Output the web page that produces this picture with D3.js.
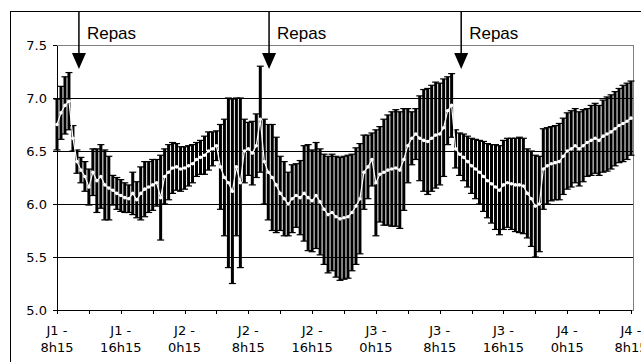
<!DOCTYPE html>
<html>
<head>
<meta charset="utf-8">
<script src="https://cdn.jsdelivr.net/npm/d3@7"></script>
<style>
  body { margin: 0; background: #fff; }
  svg { display: block; }
  .axis text { font-family: "DejaVu Sans", Verdana, sans-serif; font-size: 13px; fill: #000; }
  .axis path, .axis line { stroke: #000; shape-rendering: crispEdges; }
</style>
</head>
<body>
<svg id="chart" width="641" height="362"></svg>
<script>
// one reading every 30 min, starting J1 - 8h15
const stepHours = 0.5;

const meanValues = [
  6.75, 6.86, 6.93, 6.97, 6.62, 6.40, 6.32, 6.26, 6.16, 6.30,
  6.22, 6.26, 6.18, 6.15, 6.13, 6.10, 6.08, 6.06, 6.05, 6.10,
  6.04, 6.10, 6.14, 6.16, 6.18, 6.20, 6.06, 6.26, 6.30, 6.34,
  6.35, 6.33, 6.34, 6.36, 6.38, 6.42, 6.44, 6.46, 6.50, 6.52,
  6.55, 6.35, 6.25, 6.20, 6.12, 6.35, 6.20, 6.50, 6.52, 6.48,
  6.55, 6.80, 6.40, 6.30, 6.25, 6.18, 6.10, 6.05, 6.00, 6.05,
  6.08, 6.06, 6.10, 6.06, 6.03, 6.08, 6.02, 5.95, 5.90, 5.92,
  5.88, 5.86, 5.87, 5.88, 5.92, 5.98, 6.05, 6.30, 6.35, 6.42,
  6.20, 6.28, 6.30, 6.32, 6.33, 6.34, 6.32, 6.42, 6.55, 6.62,
  6.66, 6.62, 6.60, 6.59, 6.62, 6.65, 6.66, 6.72, 6.88, 6.93,
  6.52, 6.47, 6.44, 6.40, 6.36, 6.33, 6.30, 6.26, 6.22, 6.19,
  6.16, 6.13, 6.18, 6.20, 6.19, 6.18, 6.18, 6.17, 6.10, 6.05,
  5.98, 6.00, 6.33, 6.36, 6.38, 6.39, 6.40, 6.45, 6.50, 6.52,
  6.55, 6.52, 6.55, 6.58, 6.60, 6.62, 6.60, 6.64, 6.66, 6.68,
  6.71, 6.74, 6.76, 6.78, 6.81
];

const sdValues = [
  0.24, 0.25, 0.27, 0.27, 0.12, 0.11, 0.12, 0.14, 0.17, 0.22,
  0.30, 0.30, 0.33, 0.30, 0.14, 0.15, 0.15, 0.14, 0.13, 0.20,
  0.17, 0.25, 0.26, 0.24, 0.24, 0.22, 0.40, 0.26, 0.26, 0.24,
  0.22, 0.21, 0.20, 0.19, 0.18, 0.16, 0.16, 0.18, 0.18, 0.16,
  0.14, 0.40, 0.55, 0.80, 0.87, 0.65, 0.80, 0.30, 0.25, 0.30,
  0.30, 0.50, 0.40, 0.45, 0.50, 0.45, 0.35, 0.35, 0.30, 0.32,
  0.30, 0.35, 0.45, 0.50, 0.48, 0.50, 0.50, 0.52, 0.55, 0.55,
  0.57, 0.58, 0.58, 0.58, 0.55, 0.55, 0.52, 0.35, 0.30, 0.25,
  0.50, 0.45, 0.50, 0.52, 0.54, 0.55, 0.55, 0.48, 0.35, 0.25,
  0.24, 0.40, 0.48, 0.50, 0.50, 0.50, 0.48, 0.46, 0.32, 0.30,
  0.18, 0.20, 0.22, 0.24, 0.26, 0.28, 0.30, 0.33, 0.35, 0.37,
  0.40, 0.42, 0.42, 0.42, 0.43, 0.44, 0.45, 0.45, 0.42, 0.45,
  0.48, 0.45, 0.38, 0.36, 0.35, 0.35, 0.36, 0.36, 0.36, 0.36,
  0.35, 0.35, 0.34, 0.32, 0.33, 0.33, 0.33, 0.34, 0.35, 0.35,
  0.35, 0.35, 0.36, 0.36, 0.35
];

const dayLabels = ["J1 -", "J1 -", "J2 -", "J2 -", "J2 -", "J3 -", "J3 -", "J3 -", "J4 -", "J4 -"];
const timeLabels = ["8h15", "16h15", "0h15", "8h15", "16h15", "0h15", "8h15", "16h15", "0h15", "8h15"];
const yTicks = [5.0, 5.5, 6.0, 6.5, 7.0, 7.5];
const gridValues = [5.5, 6.0, 6.5, 7.0];
const mealHours = [2.75, 26.6, 50.7];
const mealLabel = "Repas";

const points = meanValues.map((m, i) => ({ h: i * stepHours, mean: m, sd: sdValues[i] }));

const svg = d3.select("#chart"),
  margin = { top: 45, left: 57 },
  width = 576,
  height = 265;

// outer chart frame
svg.append("rect")
  .attr("x", 10.5).attr("y", 11.5)
  .attr("width", 640).attr("height", 360)
  .attr("fill", "none").attr("stroke", "#000");

const g = svg.append("g")
  .attr("transform", "translate(" + margin.left + "," + margin.top + ")");

const x = d3.scaleLinear().domain([0, 72]).range([0, 574]),
  y = d3.scaleLinear().domain([5, 7.5]).range([height, 0]);

g.append("rect")
  .attr("x", 0.5).attr("y", 0.5)
  .attr("width", width).attr("height", height)
  .attr("fill", "none").attr("stroke", "#808080")
  .style("shape-rendering", "crispEdges");

g.selectAll(".grid")
  .data(gridValues)
  .enter()
  .append("line")
  .attr("class", "grid")
  .attr("x1", 0).attr("x2", width)
  .attr("y1", (d) => Math.round(y(d)) + 0.5)
  .attr("y2", (d) => Math.round(y(d)) + 0.5)
  .attr("stroke", "#000")
  .style("shape-rendering", "crispEdges");

g.append("g")
  .attr("class", "axis y")
  .call(d3.axisLeft(y).tickValues(yTicks).tickFormat(d3.format(".1f"))
    .tickSize(4).tickSizeOuter(0).tickPadding(6));

g.append("g")
  .attr("class", "axis x")
  .attr("transform", "translate(0," + height + ")")
  .call(d3.axisBottom(x).tickValues(d3.range(0, 73, 4)).tickFormat("")
    .tickSize(4).tickSizeOuter(0));

const xl = g.append("g").attr("class", "axis");
dayLabels.forEach((day, i) => {
  const t = xl.append("text")
    .attr("text-anchor", "middle")
    .attr("transform", `translate(${x(i * 8)},0)`);
  t.append("tspan").attr("x", 0).attr("y", 290).text(day);
  t.append("tspan").attr("x", 0).attr("y", 307).text(timeLabels[i]);
});

// error bars (mean +/- sd)
const bars = g.append("g").attr("class", "errorbars")
  .selectAll("g")
  .data(points)
  .enter()
  .append("g")
  .attr("stroke", "#000");

bars.append("line")
  .attr("x1", (d) => x(d.h)).attr("x2", (d) => x(d.h))
  .attr("y1", (d) => y(d.mean + d.sd)).attr("y2", (d) => y(d.mean - d.sd))
  .attr("stroke-width", 3);

bars.append("line")
  .attr("x1", (d) => x(d.h) - 3.5).attr("x2", (d) => x(d.h) + 3.5)
  .attr("y1", (d) => y(d.mean + d.sd)).attr("y2", (d) => y(d.mean + d.sd))
  .attr("stroke-width", 1.2);

bars.append("line")
  .attr("x1", (d) => x(d.h) - 3.5).attr("x2", (d) => x(d.h) + 3.5)
  .attr("y1", (d) => y(d.mean - d.sd)).attr("y2", (d) => y(d.mean - d.sd))
  .attr("stroke-width", 1.2);

// mean series in white
g.append("path")
  .datum(points)
  .attr("fill", "none")
  .attr("stroke", "#fff")
  .attr("stroke-width", 1.2)
  .attr("d", d3.line().x((d) => x(d.h)).y((d) => y(d.mean)));

g.append("g")
  .selectAll("circle")
  .data(points)
  .enter()
  .append("circle")
  .attr("cx", (d) => x(d.h))
  .attr("cy", (d) => y(d.mean))
  .attr("r", 1.8)
  .attr("fill", "#fff");

// meal annotations
const meals = svg.append("g").attr("class", "meals");
mealHours.forEach((h) => {
  const mx = margin.left + x(h);
  meals.append("line")
    .attr("x1", mx).attr("x2", mx)
    .attr("y1", 12).attr("y2", 54)
    .attr("stroke", "#000").attr("stroke-width", 1.5);
  meals.append("path")
    .attr("d", `M${mx - 7},53 L${mx + 7},53 L${mx},69 Z`)
    .attr("fill", "#000");
  meals.append("text")
    .attr("x", mx + 8)
    .attr("y", 39)
    .style("font-family", "'Liberation Sans', Arial, sans-serif")
    .style("font-size", "17px")
    .text(mealLabel);
});
</script>
</body>
</html>
